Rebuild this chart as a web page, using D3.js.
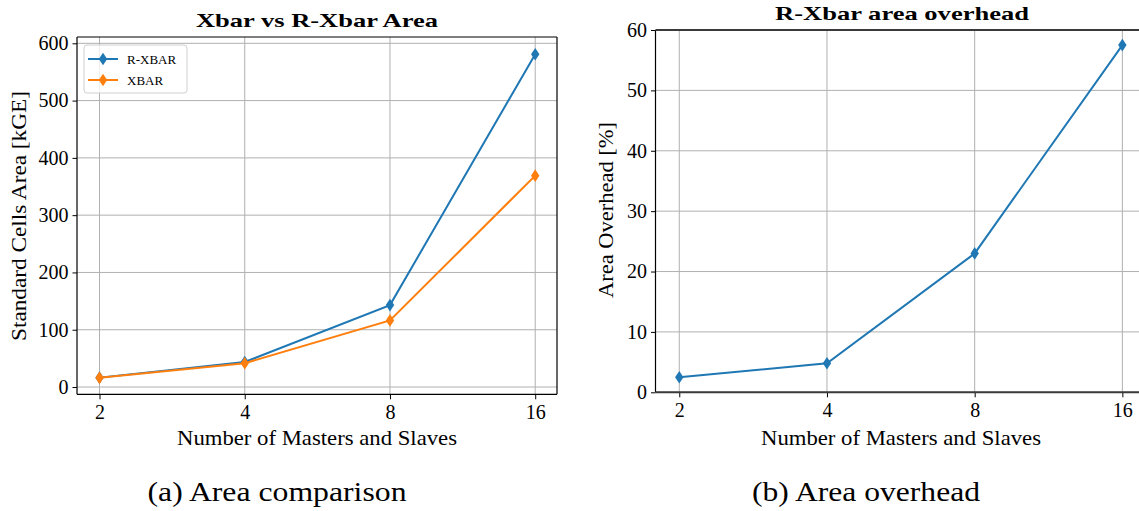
<!DOCTYPE html>
<html>
<head>
<meta charset="utf-8">
<script src="https://cdn.jsdelivr.net/npm/d3@7"></script>
<style>
  body { margin: 0; background: #fff; }
  svg text { font-family: "Liberation Serif", "DejaVu Serif", serif !important; fill: #000; }
</style>
</head>
<body>
<div id="chart"></div>
<script>
// values
const nodes = [2, 4, 8, 16];
const rxbarArea = [16.4, 43.6, 143, 581];
const xbarArea = [16.0, 41.6, 116.3, 369];
const overhead = [2.5, 4.8, 23.0, 57.5];
const areaTicks = [0, 100, 200, 300, 400, 500, 600];
const overheadTicks = [0, 10, 20, 30, 40, 50, 60];
const seriesNames = ["R-XBAR", "XBAR"];
const colors = ["#1f77b4", "#ff7f0e"];

const W = 1139, H = 511;
const serif = '"Liberation Serif", "DejaVu Serif", serif';

const svg = d3.select("#chart").append("svg")
  .attr("width", W)
  .attr("height", H)
  .attr("font-family", serif);

svg.append("rect").attr("width", W).attr("height", H).attr("fill", "#fff");

// thin diamond like matplotlib 'd'
const diamond = "M0,-6.3 L4.2,0 L0,6.3 L-4.2,0 Z";

function addText(g, str, size) {
  return g.append("text").text(str)
    .style("font-family", serif)
    .attr("font-size", size);
}

function drawPanel(cfg) {
  const x = d3.scaleLog().base(2).domain(cfg.xDomain).range(cfg.xRange);
  const y = d3.scaleLinear().domain(cfg.yDomain).range(cfg.yRange);
  const g = svg.append("g");

  // grid
  g.selectAll(".vgrid").data(nodes).enter().append("line")
    .attr("x1", d => x(d)).attr("x2", d => x(d))
    .attr("y1", cfg.yRange[0]).attr("y2", cfg.yRange[1])
    .attr("stroke", "#b0b0b0").attr("stroke-width", 1);
  g.selectAll(".hgrid").data(cfg.yTicks).enter().append("line")
    .attr("x1", cfg.xRange[0]).attr("x2", cfg.xRange[1])
    .attr("y1", d => y(d)).attr("y2", d => y(d))
    .attr("stroke", "#b0b0b0").attr("stroke-width", 1);

  // axes
  const yAxis = g.append("g")
    .attr("transform", `translate(${cfg.xRange[0]},0)`)
    .call(d3.axisLeft(y).tickValues(cfg.yTicks).tickSize(4.5).tickPadding(4).tickFormat(d3.format("d")));
  const xAxis = g.append("g")
    .attr("transform", `translate(0,${cfg.yRange[0]})`)
    .call(d3.axisBottom(x).tickValues(nodes).tickSize(5).tickPadding(6).tickFormat(d3.format("d")));
  [yAxis, xAxis].forEach(a => {
    a.attr("font-family", serif);
    a.select(".domain").remove();
    a.selectAll(".tick line").attr("stroke", "#000").attr("stroke-width", 1);
    a.selectAll(".tick text").style("font-family", serif).style("font-size", "20px").attr("fill", "#1a1a1a");
  });

  // lines + markers
  cfg.series.forEach((s, i) => {
    const line = d3.line().x((d, j) => x(nodes[j])).y(d => y(d));
    g.append("path").datum(s.values)
      .attr("d", line)
      .attr("fill", "none")
      .attr("stroke", s.color)
      .attr("stroke-width", 2);
    g.selectAll(".m" + i).data(s.values).enter().append("path")
      .attr("d", diamond)
      .attr("transform", (d, j) => `translate(${x(nodes[j])},${y(d)})`)
      .attr("fill", s.color);
  });

  // spines
  const [x0, x1] = cfg.xRange, [y0, y1] = cfg.yRange;
  g.append("line").attr("x1", x0).attr("x2", x0).attr("y1", y0).attr("y2", y1)
    .attr("stroke", "#000").attr("stroke-width", 1.2);
  g.append("line").attr("x1", x1).attr("x2", x1).attr("y1", y0).attr("y2", y1)
    .attr("stroke", "#000").attr("stroke-width", 1.2);
  g.append("line").attr("x1", x0).attr("x2", x1).attr("y1", y0).attr("y2", y0)
    .attr("stroke", cfg.hSpine).attr("stroke-width", cfg.hSpineW);
  g.append("line").attr("x1", x0).attr("x2", x1).attr("y1", y1).attr("y2", y1)
    .attr("stroke", cfg.hSpine).attr("stroke-width", cfg.hSpineW);

  // titles and labels
  addText(g, cfg.title, 19)
    .attr("x", cfg.titlePos[0]).attr("y", cfg.titlePos[1])
    .attr("text-anchor", "middle").attr("font-weight", "bold")
    .attr("textLength", cfg.titleLen).attr("lengthAdjust", "spacingAndGlyphs");
  addText(g, "Number of Masters and Slaves", 21)
    .attr("x", cfg.xLabelPos[0]).attr("y", cfg.xLabelPos[1])
    .attr("text-anchor", "middle").attr("fill", "#1a1a1a")
    .attr("textLength", 280).attr("lengthAdjust", "spacingAndGlyphs");
  addText(g, cfg.yLabel, 21)
    .attr("transform", `translate(${cfg.yLabelPos[0]},${cfg.yLabelPos[1]}) rotate(-90)`)
    .attr("text-anchor", "middle").attr("fill", "#1a1a1a")
    .attr("textLength", cfg.yLabelLen).attr("lengthAdjust", "spacingAndGlyphs");
  addText(g, cfg.caption, 27)
    .attr("x", cfg.captionPos[0]).attr("y", cfg.captionPos[1])
    .attr("text-anchor", "middle")
    .attr("textLength", cfg.captionLen).attr("lengthAdjust", "spacingAndGlyphs");

  return { x, y, g };
}

const left = drawPanel({
  xDomain: [Math.pow(2, 0.845), Math.pow(2, 4.15)],
  xRange: [77, 557],
  yDomain: [-12.7, 611],
  yRange: [394.3, 37],
  yTicks: areaTicks,
  hSpine: "#000", hSpineW: 1.2,
  series: [
    { name: seriesNames[0], values: rxbarArea, color: colors[0] },
    { name: seriesNames[1], values: xbarArea, color: colors[1] }
  ],
  title: "Xbar vs R-Xbar Area", titlePos: [317, 27], titleLen: 242,
  xLabelPos: [317, 445],
  yLabel: "Standard Cells Area [kGE]", yLabelPos: [26, 216], yLabelLen: 250,
  caption: "(a) Area comparison", captionPos: [277, 501], captionLen: 259
});

const right = drawPanel({
  xDomain: [Math.pow(2, 0.839), Math.pow(2, 4.16)],
  xRange: [655.5, 1146],
  yDomain: [0, 60],
  yRange: [392.3, 30],
  yTicks: overheadTicks,
  hSpine: "#3a3a3a", hSpineW: 2,
  series: [
    { name: "overhead", values: overhead, color: colors[0] }
  ],
  title: "R-Xbar area overhead", titlePos: [902, 20], titleLen: 254,
  xLabelPos: [901, 445],
  yLabel: "Area Overhead [%]", yLabelPos: [613, 210], yLabelLen: 176,
  caption: "(b) Area overhead", captionPos: [866, 501], captionLen: 228
});

// legend of left panel
const lg = left.g.append("g");
lg.append("rect")
  .attr("x", 84).attr("y", 45).attr("width", 103).attr("height", 48).attr("rx", 3)
  .attr("fill", "#fff").attr("fill-opacity", 0.8)
  .attr("stroke", "#d0d0d0").attr("stroke-width", 1);
seriesNames.forEach((name, i) => {
  const yy = 59 + i * 21;
  lg.append("line").attr("x1", 88).attr("x2", 118).attr("y1", yy).attr("y2", yy)
    .attr("stroke", colors[i]).attr("stroke-width", 2);
  lg.append("path").attr("d", diamond).attr("transform", `translate(103,${yy})`).attr("fill", colors[i]);
  addText(lg, name, 13).attr("x", 127).attr("y", yy + 4.5).attr("fill", "#222");
});
</script>
</body>
</html>
